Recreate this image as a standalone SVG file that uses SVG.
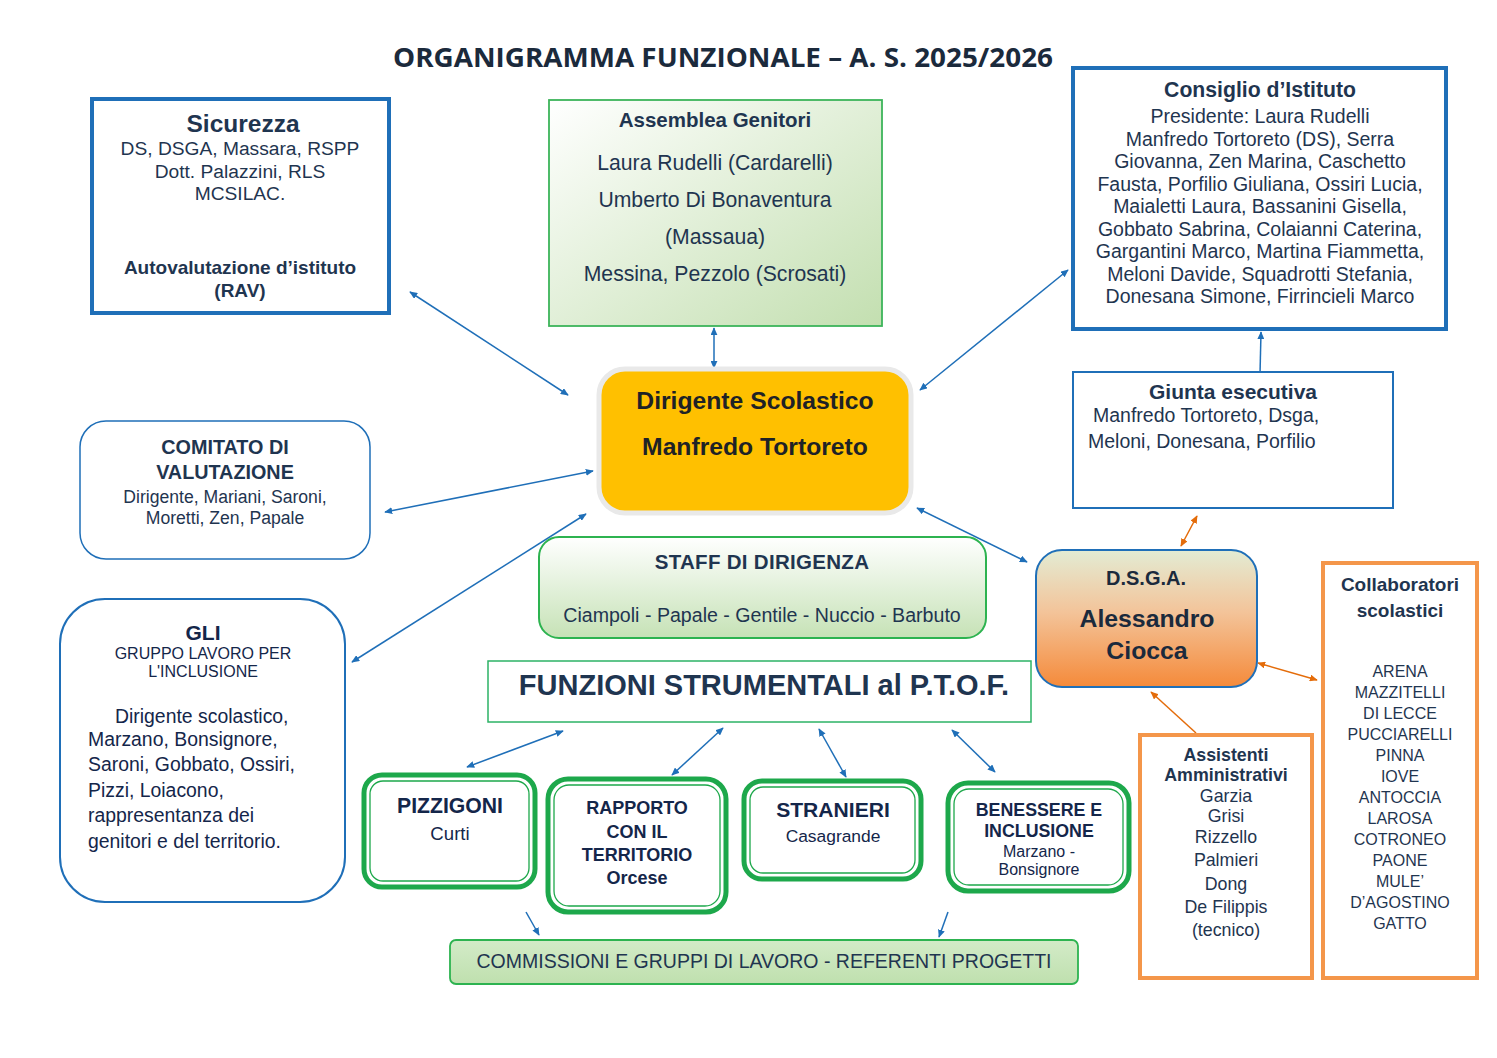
<svg xmlns="http://www.w3.org/2000/svg" width="1497" height="1058" viewBox="0 0 1497 1058">
<defs>
<linearGradient id="gAss" x1="0" y1="0" x2="1" y2="1"><stop offset="0" stop-color="#FFFFFF"/><stop offset="1" stop-color="#C3DFB0"/></linearGradient>
<linearGradient id="gStaff" x1="0" y1="0" x2="0" y2="1"><stop offset="0" stop-color="#FFFFFF"/><stop offset="1" stop-color="#C6E2B6"/></linearGradient>
<linearGradient id="gCom" x1="0" y1="0" x2="0" y2="1"><stop offset="0" stop-color="#D3EBC8"/><stop offset="1" stop-color="#BFE0AE"/></linearGradient>
<linearGradient id="gDsga" x1="0" y1="0" x2="0" y2="1"><stop offset="0" stop-color="#E3ECD4"/><stop offset="0.45" stop-color="#F3C49A"/><stop offset="1" stop-color="#F58A3A"/></linearGradient>
<marker id="ab" viewBox="0 0 10 10" refX="9" refY="5" markerWidth="8" markerHeight="7" orient="auto-start-reverse" markerUnits="userSpaceOnUse" preserveAspectRatio="none"><path d="M0,0 L10,5 L0,10 z" fill="#1F6FB8"/></marker>
<marker id="ao" viewBox="0 0 10 10" refX="9" refY="5" markerWidth="8" markerHeight="7" orient="auto-start-reverse" markerUnits="userSpaceOnUse" preserveAspectRatio="none"><path d="M0,0 L10,5 L0,10 z" fill="#E46C0A"/></marker>
<style>
text{font-family:"Liberation Sans",Arial,sans-serif;fill:#1F3550;text-anchor:middle}
.b{font-weight:bold}
.bl{stroke:#1F6FB8}
.c{stroke:#1F6FB8;stroke-width:1.5;fill:none}
.co{stroke:#E46C0A;stroke-width:1.5;fill:none}
.or{fill:#FFFFFF;stroke:#F4964A;stroke-width:4}
.fo{fill:#FFFFFF;stroke:#1DA84B;stroke-width:5}
.fi{fill:none;stroke:#1DA84B;stroke-width:1.3}
.n{fill:#14264A}
</style>
</defs>
<rect width="1497" height="1058" fill="#FFFFFF"/>
<text x="723" y="67" class="b" style="font-family:'Open Sans',sans-serif;font-size:26px;fill:#1B2A3C" textLength="660" lengthAdjust="spacingAndGlyphs">ORGANIGRAMMA FUNZIONALE – A. S. 2025/2026</text>

<g id="connectors">
<line class="c" x1="410" y1="292" x2="568" y2="395" marker-start="url(#ab)" marker-end="url(#ab)"/>
<line class="c" x1="714" y1="328" x2="714" y2="368" marker-start="url(#ab)" marker-end="url(#ab)"/>
<line class="c" x1="1068" y1="270" x2="920" y2="390" marker-start="url(#ab)" marker-end="url(#ab)"/>
<line class="c" x1="385" y1="512" x2="593" y2="471" marker-start="url(#ab)" marker-end="url(#ab)"/>
<line class="c" x1="352" y1="662" x2="586" y2="514" marker-start="url(#ab)" marker-end="url(#ab)"/>
<line class="c" x1="917" y1="508" x2="1027" y2="562" marker-start="url(#ab)" marker-end="url(#ab)"/>
<line class="c" x1="1260" y1="374" x2="1261" y2="332" marker-end="url(#ab)"/>
<line class="co" x1="1181" y1="546" x2="1197" y2="516" marker-start="url(#ao)" marker-end="url(#ao)"/>
<line class="co" x1="1258" y1="663" x2="1317" y2="680" marker-start="url(#ao)" marker-end="url(#ao)"/>
<line class="co" x1="1196" y1="733" x2="1151" y2="692" marker-end="url(#ao)"/>
<line class="c" x1="467" y1="767" x2="563" y2="731" marker-start="url(#ab)" marker-end="url(#ab)"/>
<line class="c" x1="672" y1="775" x2="723" y2="728" marker-start="url(#ab)" marker-end="url(#ab)"/>
<line class="c" x1="819" y1="729" x2="846" y2="777" marker-start="url(#ab)" marker-end="url(#ab)"/>
<line class="c" x1="952" y1="730" x2="995" y2="772" marker-start="url(#ab)" marker-end="url(#ab)"/>
<line class="c" x1="526" y1="912" x2="539" y2="935" marker-end="url(#ab)"/>
<line class="c" x1="948" y1="912" x2="939" y2="937" marker-end="url(#ab)"/>
</g>

<g id="sicurezza">
<rect x="92" y="99" width="297" height="214" fill="#FFFFFF" class="bl" stroke-width="4"/>
<text x="243" y="132" class="b" font-size="24.5">Sicurezza</text>
<text x="240" y="155" font-size="19.2">DS, DSGA, Massara, RSPP</text>
<text x="240" y="178" font-size="19.2">Dott. Palazzini, RLS</text>
<text x="240" y="200" font-size="19.2">MCSILAC.</text>
<text x="240" y="274" class="b" font-size="19">Autovalutazione d’istituto</text>
<text x="240" y="297" class="b" font-size="19">(RAV)</text>
</g>

<g id="assemblea">
<rect x="549" y="100" width="333" height="226" fill="url(#gAss)" stroke="#3CB45A" stroke-width="1.8"/>
<text x="715" y="127" class="b" font-size="20.5">Assemblea Genitori</text>
<text x="715" y="170" font-size="21.2">Laura Rudelli (Cardarelli)</text>
<text x="715" y="207" font-size="21.2">Umberto Di Bonaventura</text>
<text x="715" y="244" font-size="21.2">(Massaua)</text>
<text x="715" y="281" font-size="21.2">Messina, Pezzolo (Scrosati)</text>
</g>

<g id="consiglio">
<rect x="1073" y="68" width="373" height="261" fill="#FFFFFF" class="bl" stroke-width="4"/>
<text x="1260" y="97" class="b" font-size="21.2">Consiglio d’Istituto</text>
<text x="1260" y="123" font-size="19.5">Presidente: Laura Rudelli</text>
<text x="1260" y="146" font-size="19.5">Manfredo Tortoreto (DS), Serra</text>
<text x="1260" y="168" font-size="19.5">Giovanna, Zen Marina, Caschetto</text>
<text x="1260" y="191" font-size="19.5">Fausta, Porfilio Giuliana, Ossiri Lucia,</text>
<text x="1260" y="213" font-size="19.5">Maialetti Laura, Bassanini Gisella,</text>
<text x="1260" y="236" font-size="19.5">Gobbato Sabrina, Colaianni Caterina,</text>
<text x="1260" y="258" font-size="19.5">Gargantini Marco, Martina Fiammetta,</text>
<text x="1260" y="281" font-size="19.5">Meloni Davide, Squadrotti Stefania,</text>
<text x="1260" y="303" font-size="19.5">Donesana Simone, Firrincieli Marco</text>
</g>

<g id="dirigente">
<rect x="599" y="369" width="312" height="144" rx="26" fill="#FFC000" stroke="#E9E9E9" stroke-width="5"/>
<text x="755" y="409" class="b" font-size="24.7" style="fill:#1E2226">Dirigente Scolastico</text>
<text x="755" y="455" class="b" font-size="24.7" style="fill:#1E2226">Manfredo Tortoreto</text>
</g>

<g id="comitato">
<rect x="80" y="421" width="290" height="138" rx="26" fill="#FFFFFF" class="bl" stroke-width="1.5"/>
<text x="225" y="454" class="b" font-size="19.8">COMITATO DI</text>
<text x="225" y="479" class="b" font-size="19.8">VALUTAZIONE</text>
<text x="225" y="503" font-size="17.6">Dirigente, Mariani, Saroni,</text>
<text x="225" y="524" font-size="17.6">Moretti, Zen, Papale</text>
</g>

<g id="giunta">
<rect x="1073" y="372" width="320" height="136" fill="#FFFFFF" class="bl" stroke-width="2"/>
<text x="1233" y="399" class="b" font-size="21">Giunta esecutiva</text>
<text x="1093" y="422" font-size="19.5" style="text-anchor:start">Manfredo Tortoreto, Dsga,</text>
<text x="1088" y="448" font-size="19.5" style="text-anchor:start">Meloni, Donesana, Porfilio</text>
</g>

<g id="staff">
<rect x="539" y="537" width="447" height="101" rx="20" fill="url(#gStaff)" stroke="#2DB350" stroke-width="2"/>
<text x="762" y="569" class="b" font-size="20.5" letter-spacing="0.3">STAFF DI DIRIGENZA</text>
<text x="762" y="622" font-size="19.6">Ciampoli - Papale - Gentile - Nuccio - Barbuto</text>
</g>

<g id="funzioni">
<rect x="488" y="661" width="543" height="61" fill="#FFFFFF" stroke="#2DB366" stroke-width="1.5"/>
<text x="764" y="695" class="b" font-size="29">FUNZIONI STRUMENTALI al P.T.O.F.</text>
</g>

<g id="dsga">
<rect x="1036" y="550" width="221" height="137" rx="26" class="bl" stroke-width="2" style="fill:url(#gDsga)"/>
<text x="1146" y="585" class="b" font-size="20" style="fill:#1B2A3C">D.S.G.A.</text>
<text x="1147" y="627" class="b" font-size="24.8" style="fill:#1B2A3C">Alessandro</text>
<text x="1147" y="659" class="b" font-size="24.8" style="fill:#1B2A3C">Ciocca</text>
</g>

<g id="collaboratori">
<rect x="1323" y="563" width="154" height="415" class="or"/>
<text x="1400" y="591" class="b" font-size="19">Collaboratori</text>
<text x="1400" y="617" class="b" font-size="19">scolastici</text>
<text x="1400" y="677" font-size="16">ARENA</text>
<text x="1400" y="698" font-size="16">MAZZITELLI</text>
<text x="1400" y="719" font-size="16">DI LECCE</text>
<text x="1400" y="740" font-size="16">PUCCIARELLI</text>
<text x="1400" y="761" font-size="16">PINNA</text>
<text x="1400" y="782" font-size="16">IOVE</text>
<text x="1400" y="803" font-size="16">ANTOCCIA</text>
<text x="1400" y="824" font-size="16">LAROSA</text>
<text x="1400" y="845" font-size="16">COTRONEO</text>
<text x="1400" y="866" font-size="16">PAONE</text>
<text x="1400" y="887" font-size="16">MULE’</text>
<text x="1400" y="908" font-size="16">D’AGOSTINO</text>
<text x="1400" y="929" font-size="16">GATTO</text>
</g>

<g id="assistenti">
<rect x="1140" y="735" width="172" height="243" class="or"/>
<text x="1226" y="761" class="b" font-size="17.8">Assistenti</text>
<text x="1226" y="781" class="b" font-size="17.8">Amministrativi</text>
<text x="1226" y="802" font-size="17.8">Garzia</text>
<text x="1226" y="822" font-size="17.8">Grisi</text>
<text x="1226" y="843" font-size="17.8">Rizzello</text>
<text x="1226" y="866" font-size="17.8">Palmieri</text>
<text x="1226" y="890" font-size="17.8">Dong</text>
<text x="1226" y="913" font-size="17.8">De Filippis</text>
<text x="1226" y="936" font-size="17.8">(tecnico)</text>
</g>

<g id="gli">
<rect x="60" y="599" width="285" height="303" rx="45" fill="#FFFFFF" class="bl" stroke-width="2"/>
<text x="203" y="640" class="b n" font-size="21">GLI</text>
<text x="203" y="659" class="n" font-size="16">GRUPPO LAVORO PER</text>
<text x="203" y="677" class="n" font-size="16">L'INCLUSIONE</text>
<text x="115" y="723" class="n" font-size="19.4" style="text-anchor:start">Dirigente scolastico,</text>
<text x="88" y="746" class="n" font-size="19.4" style="text-anchor:start">Marzano, Bonsignore,</text>
<text x="88" y="771" class="n" font-size="19.4" style="text-anchor:start">Saroni, Gobbato, Ossiri,</text>
<text x="88" y="797" class="n" font-size="19.4" style="text-anchor:start">Pizzi, Loiacono,</text>
<text x="88" y="822" class="n" font-size="19.4" style="text-anchor:start">rappresentanza dei</text>
<text x="88" y="848" class="n" font-size="19.4" style="text-anchor:start">genitori e del territorio.</text>
</g>

<g id="pizzigoni">
<rect x="364" y="775" width="171" height="112" rx="18" class="fo"/>
<rect x="370" y="781" width="159" height="100" rx="13" class="fi"/>
<text x="450" y="813" class="b n" font-size="21.2">PIZZIGONI</text>
<text x="450" y="840" class="n" font-size="18.6">Curti</text>
</g>

<g id="rapporto">
<rect x="548" y="779" width="178" height="133" rx="20" class="fo"/>
<rect x="554" y="785" width="166" height="121" rx="15" class="fi"/>
<text x="637" y="814" class="b n" font-size="18">RAPPORTO</text>
<text x="637" y="838" class="b n" font-size="18">CON IL</text>
<text x="637" y="861" class="b n" font-size="18">TERRITORIO</text>
<text x="637" y="884" class="b n" font-size="18">Orcese</text>
</g>

<g id="stranieri">
<rect x="744" y="781" width="177" height="98" rx="18" class="fo"/>
<rect x="750" y="787" width="165" height="86" rx="13" class="fi"/>
<text x="833" y="817" class="b n" font-size="21.1">STRANIERI</text>
<text x="833" y="842" class="n" font-size="17.4">Casagrande</text>
</g>

<g id="benessere">
<rect x="948" y="783" width="181" height="108" rx="20" class="fo"/>
<rect x="954" y="789" width="169" height="96" rx="15" class="fi"/>
<text x="1039" y="816" class="b n" font-size="17.8">BENESSERE E</text>
<text x="1039" y="837" class="b n" font-size="17.8">INCLUSIONE</text>
<text x="1039" y="857" class="n" font-size="16">Marzano -</text>
<text x="1039" y="875" class="n" font-size="16">Bonsignore</text>
</g>

<g id="commissioni">
<rect x="450" y="940" width="628" height="44" rx="6" fill="url(#gCom)" stroke="#2DB350" stroke-width="1.8"/>
<text x="764" y="968" font-size="19.5">COMMISSIONI E GRUPPI DI LAVORO - REFERENTI PROGETTI</text>
</g>
</svg>
